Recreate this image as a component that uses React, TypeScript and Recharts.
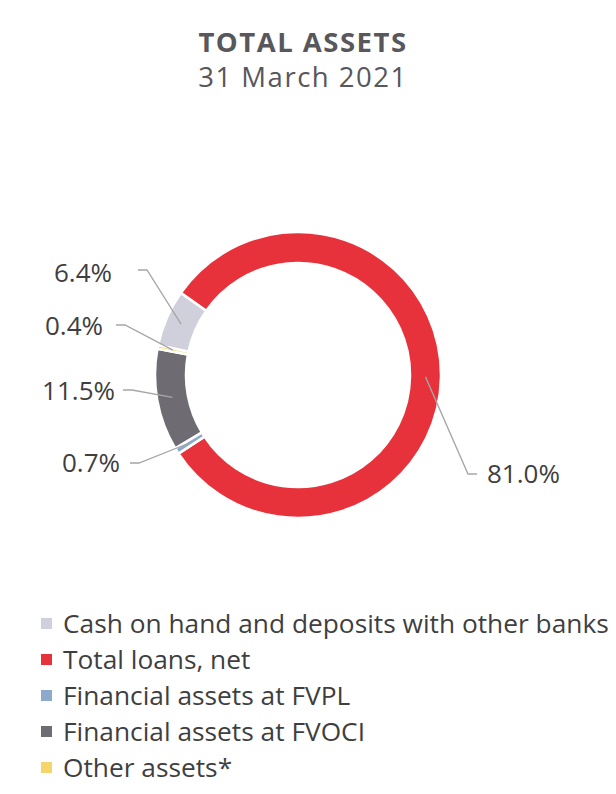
import { PieChart, Pie, Cell } from "recharts";

const categories = [
  "Cash on hand and deposits with other banks",
  "Total loans, net",
  "Financial assets at FVPL",
  "Financial assets at FVOCI",
  "Other assets*",
];
const shares = [6.4, 81.0, 0.7, 11.5, 0.4];
const colors = ["#cfd0dc", "#e8323b", "#8eaacb", "#6f6b73", "#f6d56a"];

// where Excel left each data label (text anchor point + leader start)
const labelSpots = [
  { tx: 112, ty: 282, lx: 138, ly: 270, side: "left" },
  { tx: 487, ty: 483, lx: 477, ly: 474, side: "right" },
  { tx: 120, ty: 472, lx: 130, ly: 463, side: "left" },
  { tx: 115, ty: 400, lx: 123, ly: 390, side: "left" },
  { tx: 103, ty: 335, lx: 116, ly: 325, side: "left" },
];

const FONT = "'Open Sans', sans-serif";
const RADIAN = Math.PI / 180;

const data = categories.map((name, i) => ({ name, value: shares[i] }));

function renderLabel(props: any) {
  const { cx, cy, midAngle, innerRadius, outerRadius, index, value } = props;
  const spot = labelSpots[index];
  const r = (innerRadius + outerRadius) / 2;
  const px = cx + r * Math.cos(-midAngle * RADIAN);
  const py = cy + r * Math.sin(-midAngle * RADIAN);
  const elbow = spot.side === "left" ? spot.lx + 9 : spot.lx - 9;
  return (
    <g key={`lbl-${index}`}>
      <polyline
        points={`${spot.lx},${spot.ly} ${elbow},${spot.ly} ${px},${py}`}
        fill="none"
        stroke="#a6a6a6"
        strokeWidth={1.3}
      />
      <text
        x={spot.tx}
        y={spot.ty}
        textAnchor={spot.side === "left" ? "end" : "start"}
        fill="#3f3f3f"
        fontSize={26}
        fontFamily={FONT}
      >
        {value.toFixed(1)}%
      </text>
    </g>
  );
}

function LegendRows() {
  return (
    <div style={{ position: "absolute", top: 605, left: 41, fontFamily: FONT }}>
      {categories.map((name, i) => (
        <div
          key={`leg-${i}`}
          style={{ display: "flex", alignItems: "center", height: 36, whiteSpace: "nowrap" }}
        >
          <span
            style={{
              display: "inline-block",
              width: 11,
              height: 11,
              background: colors[i],
              marginRight: 11,
            }}
          />
          <span style={{ fontSize: 26.3, color: "#3f3f3f" }}>{name}</span>
        </div>
      ))}
    </div>
  );
}

export default function App() {
  const titleStyle = {
    position: "absolute" as const,
    left: 0,
    width: 606,
    textAlign: "center" as const,
    fontFamily: FONT,
    color: "#57575c",
    fontSize: 27.5,
    lineHeight: "30px",
    letterSpacing: 1.5,
  };
  return (
    <div style={{ position: "absolute", top: 0, left: 0, width: 616, height: 794, background: "#fff" }}>
      <div style={{ ...titleStyle, top: 27, fontWeight: 700 }}>TOTAL ASSETS</div>
      <div style={{ ...titleStyle, top: 62 }}>31 March 2021</div>
      <PieChart
        width={616}
        height={590}
        margin={{ top: 0, right: 0, bottom: 0, left: 0 }}
        style={{ position: "absolute", top: 0, left: 0 }}
      >
        <Pie
          data={data}
          dataKey="value"
          nameKey="name"
          cx={298}
          cy={375}
          innerRadius={112}
          outerRadius={143}
          startAngle={168}
          endAngle={-192}
          stroke="#ffffff"
          strokeWidth={2.5}
          label={renderLabel}
          labelLine={false}
          isAnimationActive={false}
        >
          {data.map((_, i) => (
            <Cell key={`cell-${i}`} fill={colors[i]} />
          ))}
        </Pie>
      </PieChart>
      <LegendRows />
    </div>
  );
}
